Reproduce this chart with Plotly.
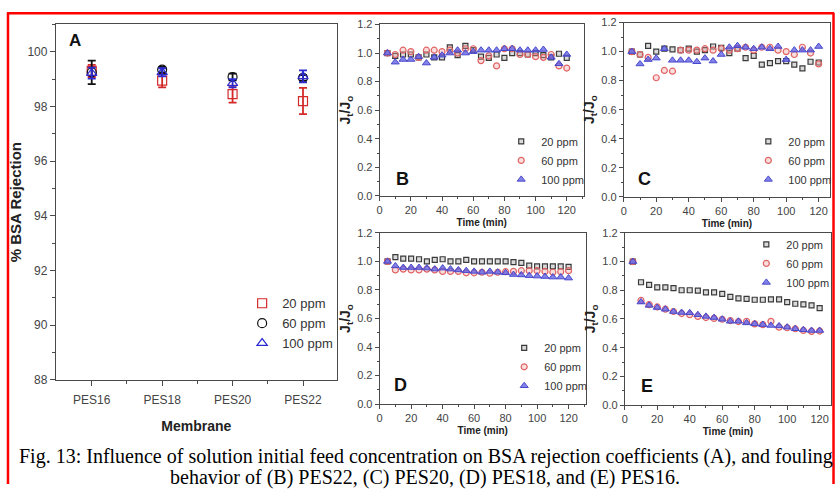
import plotly.graph_objects as go

# ---------------- DATA ----------------
membranes = ["PES16", "PES18", "PES20", "PES22"]
rej_20 = [99.30, 98.95, 98.45, 98.20]
rej_20_err = [0.22, 0.25, 0.31, 0.48]
rej_60 = [99.25, 99.35, 99.08, 99.05]
rej_60_err = [0.43, 0.10, 0.12, 0.10]
rej_100 = [99.22, 99.25, 98.85, 99.10]
rej_100_err = [0.20, 0.15, 0.15, 0.22]

time_min = [5, 10, 15, 20, 25, 30, 35, 40, 45, 50, 55, 60,
            65, 70, 75, 80, 85, 90, 95, 100, 105, 110, 115, 120]

# (B) PES22
B_20 = [1.00, 0.98, 0.99, 0.99, 0.97, 0.99, 0.97, 0.97, 1.04, 0.985, 1.05, 1.02,
        0.975, 0.966, 0.99, 0.966, 1.00, 1.00, 0.99, 1.00, 0.985, 0.97, 0.995, 0.966]
B_60 = [1.00, 0.99, 1.02, 1.01, 0.97, 1.02, 1.02, 1.01, 1.02, 1.00, 1.03, 1.03,
        0.947, 0.98, 0.91, 1.03, 1.03, 0.99, 0.99, 0.975, 0.97, 0.99, 0.91, 0.895]
B_100 = [1.00, 0.936, 0.955, 0.955, 0.975, 0.93, 0.97, 0.985, 1.00, 1.02, 1.00, 1.01,
         1.02, 1.02, 1.02, 1.03, 1.03, 1.02, 1.02, 1.02, 1.025, 0.97, 0.925, 0.99]

# (C) PES20
C_20 = [1.00, 0.98, 1.04, 1.00, 1.02, 1.015, 1.01, 1.02, 1.00, 1.01, 1.035, 1.025,
        0.99, 1.02, 0.955, 0.97, 0.91, 0.92, 0.935, 0.935, 0.91, 0.885, 0.93, 0.925]
C_60 = [1.00, 0.98, 0.96, 0.82, 0.87, 0.865, 1.01, 1.01, 1.01, 1.02, 1.01, 1.02,
        1.01, 1.02, 1.03, 1.01, 1.03, 1.03, 1.01, 1.00, 0.98, 1.03, 0.99, 0.915]
C_100 = [1.00, 0.915, 0.945, 0.955, 1.02, 0.94, 0.94, 0.94, 0.93, 0.955, 0.935, 0.98,
         1.03, 1.04, 1.03, 1.02, 1.03, 1.02, 1.035, 0.945, 1.01, 1.01, 1.01, 1.035]

# (D) PES18
D_20 = [1.00, 1.03, 1.02, 1.02, 1.015, 1.00, 1.01, 1.015, 1.00, 1.00, 1.01, 1.00,
        1.00, 1.00, 1.00, 1.00, 0.995, 0.99, 0.97, 0.965, 0.965, 0.965, 0.965, 0.962]
D_60 = [1.00, 0.94, 0.946, 0.94, 0.94, 0.946, 0.94, 0.93, 0.93, 0.93, 0.92, 0.92,
        0.924, 0.917, 0.924, 0.928, 0.93, 0.935, 0.935, 0.935, 0.93, 0.924, 0.928, 0.935]
D_100 = [1.00, 0.968, 0.957, 0.957, 0.957, 0.953, 0.946, 0.953, 0.946, 0.94, 0.935, 0.93,
         0.924, 0.93, 0.924, 0.92, 0.908, 0.905, 0.90, 0.897, 0.894, 0.89, 0.89, 0.883]

# (E) PES16
E_20 = [1.00, 0.856, 0.838, 0.82, 0.82, 0.815, 0.80, 0.80, 0.797, 0.786, 0.786, 0.775,
        0.754, 0.743, 0.74, 0.734, 0.734, 0.736, 0.736, 0.718, 0.706, 0.702, 0.695, 0.675]
E_60 = [1.00, 0.729, 0.70, 0.684, 0.668, 0.652, 0.638, 0.63, 0.618, 0.61, 0.604, 0.598,
        0.589, 0.582, 0.584, 0.566, 0.561, 0.584, 0.543, 0.539, 0.532, 0.52, 0.514, 0.516]
E_100 = [1.00, 0.718, 0.695, 0.68, 0.668, 0.652, 0.645, 0.643, 0.63, 0.618, 0.61, 0.598,
         0.584, 0.584, 0.573, 0.566, 0.561, 0.555, 0.552, 0.543, 0.532, 0.525, 0.52, 0.52]

series_names = ["20 ppm", "60 ppm", "100 ppm"]
caption_1 = "Fig. 13: Influence of solution initial feed concentration on BSA rejection coefficients (A), and fouling"
caption_2 = "behavior of (B) PES22, (C) PES20, (D) PES18, and (E) PES16."

# ---------------- STYLE ----------------
W, H = 838, 491
SANS = "Liberation Sans, Arial, sans-serif"
SERIF = "Liberation Serif, Times New Roman, serif"
AXC = "#4a4a4a"


def px_x(p):
    return p / W


def px_y(p):
    return 1 - p / H


fig = go.Figure()

# ---- Panel A ----
xA = list(range(len(membranes)))
specA = [
    (rej_20, rej_20_err, "square-open", "#d42a2a"),
    (rej_60, rej_60_err, "circle-open", "#111111"),
    (rej_100, rej_100_err, "triangle-up-open", "#2b2bd0"),
]
for (vals, errs, sym, col), nm in zip(specA, series_names):
    fig.add_trace(go.Scatter(
        x=xA, y=vals, mode="markers", name=nm, legend="legend",
        marker=dict(symbol=sym, size=9, color=col, line=dict(width=1.2, color=col)),
        error_y=dict(type="data", array=errs, visible=True, color=col, thickness=1.8, width=4),
        xaxis="x", yaxis="y", showlegend=True,
    ))

# ---- Panels B-E ----
panel_data = [
    ("x2", "y2", "legend2", (B_20, B_60, B_100)),
    ("x3", "y3", "legend3", (C_20, C_60, C_100)),
    ("x4", "y4", "legend4", (D_20, D_60, D_100)),
    ("x5", "y5", "legend5", (E_20, E_60, E_100)),
]
small_styles = [
    dict(symbol="square", size=5, color="rgba(150,150,150,0.35)", line=dict(width=1.2, color="#3a3a3a")),
    dict(symbol="circle", size=6, color="rgba(240,160,160,0.35)", line=dict(width=1.2, color="#e06464")),
    dict(symbol="triangle-up", size=7, color="rgba(90,90,225,0.75)", line=dict(width=1, color="#4848cc")),
]
for xa, ya, lg, sers in panel_data:
    for vals, st, nm in zip(sers, small_styles, series_names):
        fig.add_trace(go.Scatter(
            x=time_min, y=vals, mode="markers", name=nm, legend=lg,
            marker=st, xaxis=xa, yaxis=ya, showlegend=True,
        ))


def base_axis(**kw):
    d = dict(showline=True, linecolor=AXC, linewidth=1, mirror=True,
             ticks="outside", ticklen=4, tickcolor=AXC, tickwidth=1,
             tickfont=dict(family=SANS, size=11, color="#444"),
             showgrid=False, zeroline=False)
    d.update(kw)
    return d


def inside_axis(**kw):
    d = dict(showline=False, showgrid=False, zeroline=False, showticklabels=False,
             ticks="inside", ticklen=4, tickcolor=AXC, tickwidth=1)
    d.update(kw)
    return d


# Domains (pixels -> paper)
dom = {
    "A": ([px_x(53), px_x(335)], [px_y(384), px_y(19)]),
    "B": ([px_x(378), px_x(583)], [px_y(195), px_y(19)]),
    "C": ([px_x(623), px_x(830)], [px_y(196), px_y(17)]),
    "D": ([px_x(378), px_x(585)], [px_y(409), px_y(233)]),
    "E": ([px_x(624), px_x(831)], [px_y(410), px_y(233)]),
}

xrA = [-0.51, 3.48]
yrA = [88, 101]
fig.update_layout(
    xaxis=base_axis(domain=dom["A"][0], anchor="y", range=xrA,
                    tickvals=xA, ticktext=membranes, ticklen=5, ticklabelstandoff=4,
                    minor=dict(tickvals=[0.5, 1.5, 2.5], ticklen=3, tickcolor=AXC, ticks="outside"),
                    tickfont=dict(family=SANS, size=12, color="#444"),
                    title=dict(text="<b>Membrane</b>", font=dict(family=SANS, size=14, color="#222"), standoff=14)),
    yaxis=base_axis(domain=dom["A"][1], anchor="x", range=yrA, dtick=2, tick0=88, ticklen=5,
                    minor=dict(dtick=1, ticklen=3, tickcolor=AXC, ticks="outside"),
                    tickfont=dict(family=SANS, size=12, color="#444"),
                    title=dict(text="<b>% BSA Rejection</b>", font=dict(family=SANS, size=15, color="#222"), standoff=2)),
    xaxis6=inside_axis(overlaying="x", anchor="y", side="top", range=xrA, tick0=-0.1, dtick=0.4, ticklen=5),
    yaxis6=inside_axis(overlaying="y", anchor="x", side="right", range=yrA, tick0=88, dtick=1, ticklen=4),
)

k = 7
for key, n, xr in [("B", "2", [0, 131]), ("C", "3", [0, 127]), ("D", "4", [0, 131]), ("E", "5", [0, 127])]:
    fig.update_layout({
        "xaxis" + n: base_axis(domain=dom[key][0], anchor="y" + n, range=xr, dtick=20, tick0=0,
                               minor=dict(dtick=10, ticklen=2, tickcolor=AXC, ticks="outside"),
                               title=dict(text="<b>Time (min)</b>", font=dict(family=SANS, size=10, color="#222"), standoff=3)),
        "yaxis" + n: base_axis(domain=dom[key][1], anchor="x" + n, range=[0, 1.2], dtick=0.2, tick0=0,
                               tickformat=".1f",
                               minor=dict(dtick=0.1, ticklen=2, tickcolor=AXC, ticks="outside"),
                               title=dict(text="<b>J<sub>t</sub>/J<sub>o</sub></b>", font=dict(family=SANS, size=14, color="#222"), standoff=3)),
        "xaxis" + str(k): inside_axis(overlaying="x" + n, anchor="y" + n, side="top", range=xr, tick0=0, dtick=20, ticklen=3),
        "yaxis" + str(k): inside_axis(overlaying="y" + n, anchor="x" + n, side="right", range=[0, 1.2], tick0=0, dtick=0.2, ticklen=3),
    })
    k += 1

# Legends
leg_common = dict(bgcolor="rgba(0,0,0,0)", borderwidth=0, itemwidth=30,
                  font=dict(family=SANS, size=11, color="#333"), xanchor="left")
fig.update_layout(
    legend=dict(leg_common, x=px_x(240), y=px_y(290), yanchor="top",
                font=dict(family=SANS, size=13, color="#333")),
    legend2=dict(leg_common, x=px_x(500), y=px_y(193), yanchor="bottom"),
    legend3=dict(leg_common, x=px_x(748), y=px_y(193), yanchor="bottom"),
    legend4=dict(leg_common, x=px_x(503), y=px_y(405), yanchor="bottom"),
    legend5=dict(leg_common, x=px_x(746), y=px_y(230), yanchor="top"),
)

annotations = [
    dict(text="<b>A</b>", xref="x domain", yref="y domain", x=0.04, y=0.955, showarrow=False,
         font=dict(family=SANS, size=17, color="#111"), xanchor="left", yanchor="middle"),
    dict(text="<b>B</b>", xref="x2 domain", yref="y2 domain", x=0.07, y=0.097, showarrow=False,
         font=dict(family=SANS, size=18, color="#111"), xanchor="left", yanchor="middle"),
    dict(text="<b>C</b>", xref="x3 domain", yref="y3 domain", x=0.06, y=0.10, showarrow=False,
         font=dict(family=SANS, size=18, color="#111"), xanchor="left", yanchor="middle"),
    dict(text="<b>D</b>", xref="x4 domain", yref="y4 domain", x=0.06, y=0.11, showarrow=False,
         font=dict(family=SANS, size=18, color="#111"), xanchor="left", yanchor="middle"),
    dict(text="<b>E</b>", xref="x5 domain", yref="y5 domain", x=0.07, y=0.11, showarrow=False,
         font=dict(family=SANS, size=18, color="#111"), xanchor="left", yanchor="middle"),
    dict(text=caption_1, xref="paper", yref="paper", x=px_x(425), y=px_y(463), showarrow=False,
         font=dict(family=SERIF, size=20, color="#000"), xanchor="center", yanchor="middle"),
    dict(text=caption_2, xref="paper", yref="paper", x=px_x(424), y=px_y(484), showarrow=False,
         font=dict(family=SERIF, size=20, color="#000"), xanchor="center", yanchor="middle"),
]

shapes = [
    dict(type="line", xref="paper", yref="paper", x0=px_x(5), x1=px_x(5), y0=0, y1=px_y(7),
         line=dict(color="#ff0000", width=2.5)),
    dict(type="line", xref="paper", yref="paper", x0=px_x(4), x1=px_x(834), y0=px_y(7.5), y1=px_y(7.5),
         line=dict(color="#ff0000", width=2.5)),
    dict(type="line", xref="paper", yref="paper", x0=px_x(833.5), x1=px_x(833.5), y0=0, y1=px_y(7),
         line=dict(color="#ff0000", width=2.5)),
]

fig.update_layout(
    width=W, height=H, margin=dict(l=0, r=0, t=0, b=0),
    paper_bgcolor="white", plot_bgcolor="white",
    annotations=annotations, shapes=shapes, showlegend=True,
)

fig.write_html("out.html")
